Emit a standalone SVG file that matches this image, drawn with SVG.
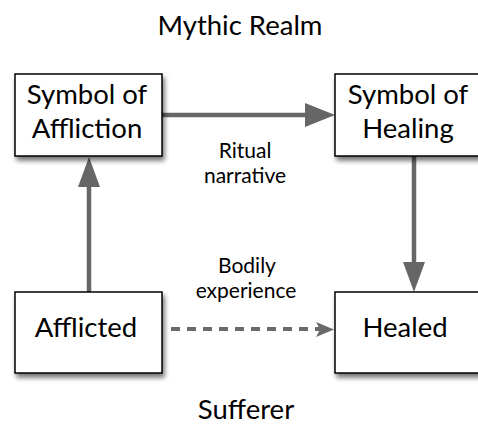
<svg xmlns="http://www.w3.org/2000/svg" width="478" height="425" viewBox="0 0 478 425">
<style>
.box{fill:#fff;stroke:#000;stroke-width:1.5;filter:url(#sh)}
.t{font-family:Lato,"Open Sans",sans-serif;fill:#000;text-anchor:middle}
.big{font-size:27.5px}
.sm{font-size:21px}
.c{stroke:#666;stroke-width:4.5;fill:none}
.d{stroke:#6a6a6a;stroke-width:4;fill:none;stroke-dasharray:9 7}
</style>
<defs>
<filter id="sh" x="-20%" y="-20%" width="150%" height="150%">
<feGaussianBlur in="SourceAlpha" stdDeviation="2.5"/>
<feOffset dx="2" dy="4" result="b"/>
<feComponentTransfer><feFuncA type="linear" slope="0.55"/></feComponentTransfer>
<feMerge><feMergeNode/><feMergeNode in="SourceGraphic"/></feMerge>
</filter>
</defs>
<text class="t big" x="240" y="35">Mythic Realm</text>
<text class="t big" x="246" y="419">Sufferer</text>
<g id="connectors">
<line class="c" x1="162" y1="115" x2="306" y2="115"/>
<polygon points="305,103 335,115 305,127" fill="#666"/>
<line class="c" x1="89" y1="292" x2="89" y2="186"/>
<polygon points="78,187 89,157 100,187" fill="#666"/>
<line class="c" x1="414" y1="156" x2="414" y2="263"/>
<polygon points="403,262 414,292 425,262" fill="#666"/>
<line class="d" x1="171" y1="329" x2="320" y2="329"/>
<polygon points="316,322 334,329.5 316,337 320,329.5" fill="#6a6a6a"/>
<text class="t sm" x="245" y="158">Ritual</text>
<text class="t sm" x="245" y="183">narrative</text>
<text class="t sm" x="247" y="273">Bodily</text>
<text class="t sm" x="246" y="298">experience</text>
</g>
<g id="affliction">
<rect class="box" x="15" y="74" width="147" height="82"/>
<text class="t big" x="87" y="104">Symbol of</text>
<text class="t big" x="87" y="138">Affliction</text>
</g>
<g id="healing">
<rect class="box" x="335" y="74" width="150" height="82"/>
<text class="t big" x="408" y="104">Symbol of</text>
<text class="t big" x="408" y="138">Healing</text>
</g>
<g id="afflicted">
<rect class="box" x="15" y="292" width="147" height="81"/>
<text class="t big" x="86" y="337">Afflicted</text>
</g>
<g id="healed">
<rect class="box" x="335" y="292" width="150" height="81"/>
<text class="t big" x="405" y="337">Healed</text>
</g>
</svg>
